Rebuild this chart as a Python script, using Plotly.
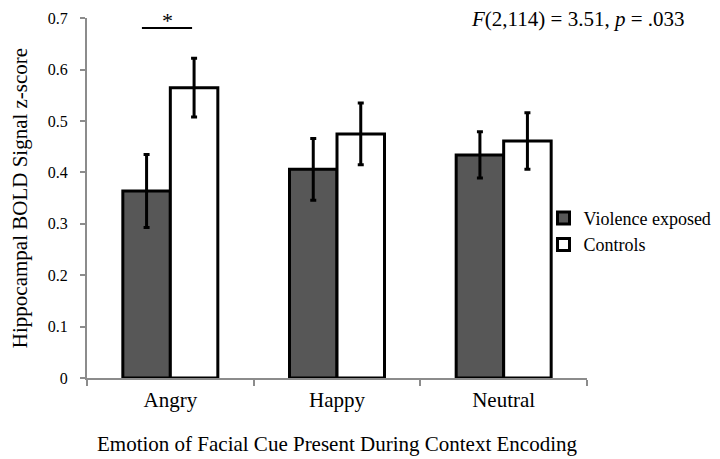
import plotly.graph_objects as go

categories = ["Angry", "Happy", "Neutral"]
violence_vals = [0.364, 0.406, 0.434]
violence_err = [0.071, 0.060, 0.045]
control_vals = [0.565, 0.475, 0.461]
control_err = [0.057, 0.060, 0.055]
y_ticks = [0, 0.1, 0.2, 0.3, 0.4, 0.5, 0.6, 0.7]
y_tick_text = ["0", "0.1", "0.2", "0.3", "0.4", "0.5", "0.6", "0.7"]
sig_level = 0.681
star_level = 0.695

FONT = "Liberation Serif"
GAP = 0.43
half = (1 - GAP) / 4

fig = go.Figure()
fig.add_trace(go.Bar(
    x=categories, y=violence_vals, name="Violence exposed",
    marker=dict(color="#575757", line=dict(color="black", width=3)),
    error_y=dict(type="data", array=violence_err, color="black", thickness=3, width=3),
))
fig.add_trace(go.Bar(
    x=categories, y=control_vals, name="Controls",
    marker=dict(color="white", line=dict(color="black", width=3)),
    error_y=dict(type="data", array=control_err, color="black", thickness=3, width=3),
))

# significance bracket over Angry
fig.add_shape(type="line", xref="x", yref="y", x0=0 - half - 0.028, x1=0 + half - 0.012,
              y0=sig_level, y1=sig_level, line=dict(color="black", width=2))
fig.add_annotation(x=-0.015, y=star_level, xref="x", yref="y", text="*", showarrow=False,
                   font=dict(size=22, color="black", family=FONT), yanchor="middle")
fig.add_annotation(x=1.198, y=0.997, xref="paper", yref="paper",
                   text="<i>F</i>(2,114) = 3.51, <i>p</i> = .033", showarrow=False,
                   xanchor="right", yanchor="middle",
                   font=dict(size=21, color="black", family=FONT))

fig.update_layout(
    width=720, height=459,
    margin=dict(l=79, r=141, t=10, b=89, autoexpand=False),
    paper_bgcolor="white", plot_bgcolor="white",
    barmode="group", bargap=GAP, bargroupgap=0,
    font=dict(family=FONT, size=16, color="black"),
    legend=dict(x=0.913, y=0.495, xanchor="left", yanchor="top",
                font=dict(size=18, family=FONT, color="black"),
                tracegroupgap=6, bgcolor="rgba(0,0,0,0)"),
    xaxis=dict(
        automargin=False,
        showline=True, linecolor="#8c8c8c", linewidth=2,
        ticks="outside", tickson="boundaries", ticklen=6, tickcolor="#8c8c8c", tickwidth=2,
        ticklabelstandoff=2,
        tickfont=dict(size=21, family=FONT, color="black"),
        title=dict(text="Emotion of Facial Cue Present During Context Encoding",
                   font=dict(size=21, family=FONT, color="black"), standoff=25),
        showgrid=False, zeroline=False,
    ),
    yaxis=dict(
        automargin=False,
        range=[0, 0.7005], tickvals=y_ticks, ticktext=y_tick_text,
        showline=True, linecolor="#8c8c8c", linewidth=2,
        ticks="outside", ticklen=5, tickcolor="#8c8c8c", tickwidth=2,
        ticklabelstandoff=9,
        tickfont=dict(size=16, family=FONT, color="black"),
        title=dict(text="Hippocampal BOLD Signal z-score",
                   font=dict(size=21, family=FONT, color="black"), standoff=20),
        showgrid=False, zeroline=False,
    ),
)

fig.write_html("out.html")
